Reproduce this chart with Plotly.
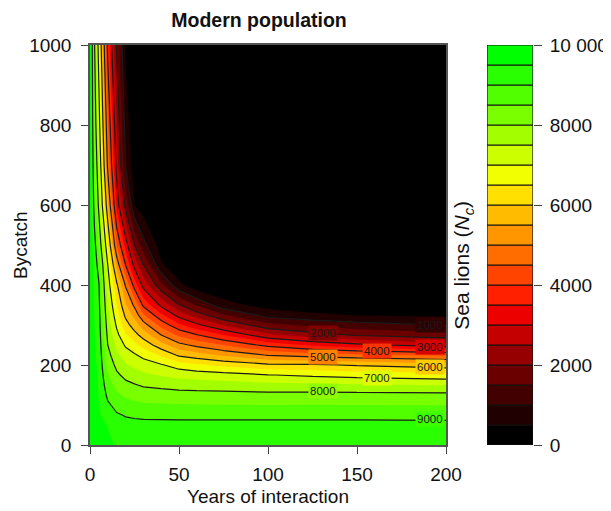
import plotly.graph_objects as go

# ---- data (population N_c on a years x bycatch grid) ----
years = [0, 2.5, 5, 10, 15, 20, 25, 30, 40, 50, 60, 75, 100, 125, 150, 200]
bycatch = [0, 25, 50, 75, 100, 125, 150, 175, 200, 225, 250, 275, 300, 325, 350,
           400, 450, 500, 600, 700, 800, 1000]

# one row per bycatch value, one column per year value
population = [
    [10000, 9850, 9680, 9600, 9450, 9400, 9380, 9370, 9360, 9360, 9350, 9340, 9340, 9340, 9330, 9330],
    [10000, 9830, 9640, 9560, 9320, 9260, 9260, 9270, 9270, 9270, 9270, 9270, 9270, 9270, 9270, 9260],
    [10000, 9800, 9600, 9480, 9190, 9130, 9150, 9150, 9150, 9150, 9150, 9150, 9150, 9150, 9150, 9140],
    [10000, 9770, 9560, 9280, 9050, 8970, 8920, 8880, 8870, 8860, 8860, 8860, 8860, 8860, 8860, 8840],
    [10000, 9740, 9520, 9080, 8850, 8690, 8620, 8570, 8550, 8530, 8520, 8510, 8500, 8510, 8500, 8490],
    [10000, 9710, 9480, 8890, 8600, 8420, 8330, 8260, 8220, 8190, 8180, 8170, 8150, 8160, 8150, 8140],
    [10000, 9680, 9440, 8710, 8350, 8140, 8035, 7940, 7870, 7800, 7760, 7720, 7630, 7610, 7560, 7480],
    [10000, 9650, 9400, 8540, 8100, 7850, 7710, 7600, 7460, 7330, 7270, 7190, 7020, 6900, 6800, 6670],
    [10000, 9620, 9360, 8360, 7860, 7550, 7390, 7250, 7050, 6760, 6590, 6380, 6110, 6070, 5950, 5740],
    [10000, 9590, 9320, 8180, 7620, 7240, 7060, 6850, 6410, 5910, 5700, 5420, 4960, 4750, 4630, 4390],
    [10000, 9560, 9280, 8000, 7380, 6930, 6640, 6320, 5710, 5150, 4870, 4480, 3840, 3410, 3130, 2740],
    [10000, 9530, 9230, 7875, 7140, 6570, 6180, 5780, 5000, 4410, 4030, 3500, 2630, 2220, 1940, 1690],
    [10000, 9500, 9190, 7750, 6920, 6210, 5750, 5220, 4320, 3620, 3110, 2480, 1640, 1375, 1210, 975],
    [10000, 9470, 9150, 7625, 6710, 5880, 5330, 4570, 3610, 2790, 2240, 1540, 815, 594, 480, 400],
    [10000, 9440, 9110, 7500, 6510, 5570, 4890, 3880, 2880, 2030, 1440, 690, 300, 200, 150, 100],
    [10000, 9380, 9030, 7250, 6100, 4940, 3780, 2810, 1630, 625, 150, 50, 0, 0, 0, 0],
    [10000, 9300, 8780, 7000, 5345, 4000, 2830, 2000, 580, 100, 0, 0, 0, 0, 0, 0],
    [10000, 9180, 8420, 6550, 4500, 3290, 2000, 1170, 250, 0, 0, 0, 0, 0, 0, 0],
    [10000, 8780, 7870, 5600, 3333, 1820, 500, 250, 50, 0, 0, 0, 0, 0, 0, 0],
    [10000, 8550, 7560, 4870, 2808, 982, 250, 50, 0, 0, 0, 0, 0, 0, 0, 0],
    [10000, 8350, 7250, 4530, 2513, 778, 100, 0, 0, 0, 0, 0, 0, 0, 0, 0],
    [10000, 8050, 6740, 3840, 1923, 400, 0, 0, 0, 0, 0, 0, 0, 0, 0, 0],
]

band_lows = [0, 500, 1000, 1500, 2000, 2500, 3000, 3500, 4000, 4500,
             5000, 5500, 6000, 6500, 7000, 7500, 8000, 8500, 9000, 9500]
band_colors = ["#000000", "#200000", "#420000", "#6a0000", "#960000",
               "#c40000", "#ec0000", "#ff2000", "#ff4400", "#ff6c00",
               "#ff9600", "#ffbb00", "#ffe000", "#f2ff00", "#ccff00",
               "#a3ff00", "#7aff00", "#52ff00", "#2aff00", "#00ff00"]
line_levels = [1000, 2000, 3000, 4000, 5000, 6000, 7000, 8000, 9000]
cbar_tickvals = [0, 2000, 4000, 6000, 8000, 10000]
cbar_ticktext = ["0", "2000", "4000", "6000", "8000", "10 000"]
x_ticks = [0, 50, 100, 150, 200]
y_ticks = [0, 200, 400, 600, 800, 1000]

FONT = "Liberation Sans, Arial, Helvetica, sans-serif"
ZMAX = 10000
STEP = 500

# where the reference prints each contour label (years, bycatch) - layout only
label_pos = {1000: (191, 299), 2000: (131, 281), 3000: (191, 246),
             4000: (161, 236), 5000: (131, 221), 6000: (191, 196),
             7000: (161, 168), 8000: (131, 136), 9000: (191, 64)}


def band_color(value):
    idx = min(int(value // STEP), len(band_colors) - 1)
    return band_colors[idx]


def mix(c1, c2):
    a = [int(c1[i:i + 2], 16) for i in (1, 3, 5)]
    b = [int(c2[i:i + 2], 16) for i in (1, 3, 5)]
    return "#" + "".join(f"{(p + q) // 2:02x}" for p, q in zip(a, b))


n = len(band_colors)
colorscale = []
for i, c in enumerate(band_colors):
    colorscale.append([i / n, c])
    colorscale.append([(i + 1) / n, c])

fig = go.Figure()

# filled bands every 500
fig.add_trace(go.Contour(
    x=years, y=bycatch, z=population,
    zmin=0, zmax=ZMAX,
    colorscale=colorscale,
    contours=dict(coloring="fill", start=0, end=ZMAX, size=STEP),
    line=dict(width=0, smoothing=0),
    showscale=False, hoverinfo="skip",
))

# black lines every 1000
fig.add_trace(go.Contour(
    x=years, y=bycatch, z=population,
    colorscale=[[0, "#1a1a1a"], [1, "#1a1a1a"]],
    contours=dict(coloring="lines", start=line_levels[0], end=line_levels[-1],
                  size=1000, showlabels=False),
    line=dict(width=1.2, smoothing=0),
    showscale=False, hoverinfo="skip",
))

# colour key drawn as stacked bars on its own axis
fig.add_trace(go.Bar(
    x=[0] * n, y=[STEP] * n, base=band_lows,
    marker=dict(color=band_colors, line=dict(color="#111111", width=1.2)),
    width=1, xaxis="x2", yaxis="y2", showlegend=False, hoverinfo="skip",
))

# page body has an 8px margin: draw the figure 8px smaller and shifted
OFF = 8
FIG_W, FIG_H = 611 - OFF, 511 - OFF
PL, PT = 90 - OFF, 45 - OFF          # plot left / top in figure px
PR = 533 - OFF                       # right of colour key
PB = 445.5 - OFF                     # bottom of plot
W_PAPER = PR - PL
H_PAPER = PB - PT
main_frac = 356 / W_PAPER
cb_left = (487 - 90) / W_PAPER

axis_common = dict(showgrid=False, zeroline=False, ticks="outside", ticklen=7,
                   tickwidth=1.2, tickcolor="#444444", linecolor="#555555",
                   linewidth=1.5, tickfont=dict(family=FONT, size=19, color="#111111"))

annotations = [
    dict(text="Bycatch", x=(20 - 90) / W_PAPER, y=0.5, xref="paper", yref="paper",
         textangle=-90, showarrow=False, xanchor="center", yanchor="middle",
         font=dict(family=FONT, size=19, color="#111111")),
    dict(text="Years of interaction", x=(268 - 90) / W_PAPER,
         y=(445.5 - 497) / H_PAPER, xref="paper", yref="paper",
         showarrow=False, xanchor="center", yanchor="middle",
         font=dict(family=FONT, size=19, color="#111111")),
    dict(text="Sea lions (<i>N</i><sub><i>c</i></sub>)", x=(463 - 90) / W_PAPER,
         y=(445.5 - 266) / H_PAPER, xref="paper", yref="paper",
         textangle=-90, showarrow=False, xanchor="center", yanchor="middle",
         font=dict(family=FONT, size=21, color="#111111")),
]
for lvl in line_levels:
    lx, ly = label_pos[lvl]
    annotations.append(dict(
        text=str(lvl), x=lx, y=ly, xref="x", yref="y", showarrow=False,
        xanchor="center", yanchor="middle",
        bgcolor=mix(band_color(lvl - 1), band_color(lvl + 1)), borderpad=1,
        font=dict(family=FONT, size=11.5, color="#1a1a1a")))

fig.update_layout(
    width=FIG_W, height=FIG_H,
    margin=dict(l=PL, r=FIG_W - PR, t=PT, b=FIG_H - PB),
    paper_bgcolor="white", plot_bgcolor="white",
    showlegend=False,
    barmode="overlay",
    title=dict(text="<b>Modern population</b>", x=(259 - OFF) / FIG_W, xref="container",
               xanchor="center", y=1 - (20 - OFF) / FIG_H, yref="container",
               yanchor="middle",
               font=dict(family=FONT, size=19.5, color="#111111")),
    xaxis=dict(domain=[0, main_frac], range=[0, 200], tickvals=x_ticks,
               mirror=True, ticklabelstandoff=4, automargin=False, **axis_common),
    yaxis=dict(range=[0, 1000], tickvals=y_ticks, mirror=True,
               ticklabelstandoff=6, automargin=False, **axis_common),
    xaxis2=dict(domain=[cb_left, 1], range=[-0.5, 0.5], visible=False,
                anchor="y2"),
    yaxis2=dict(domain=[0, 1], range=[0, ZMAX], anchor="x2", side="right",
                tickvals=cbar_tickvals, ticktext=cbar_ticktext,
                showgrid=False, zeroline=False, ticks="outside", ticklen=8,
                tickwidth=1.2, tickcolor="#444444", showline=False,
                ticklabelstandoff=4, automargin=False,
                tickfont=dict(family=FONT, size=19, color="#111111")),
    annotations=annotations,
)

fig.write_html("out.html")
